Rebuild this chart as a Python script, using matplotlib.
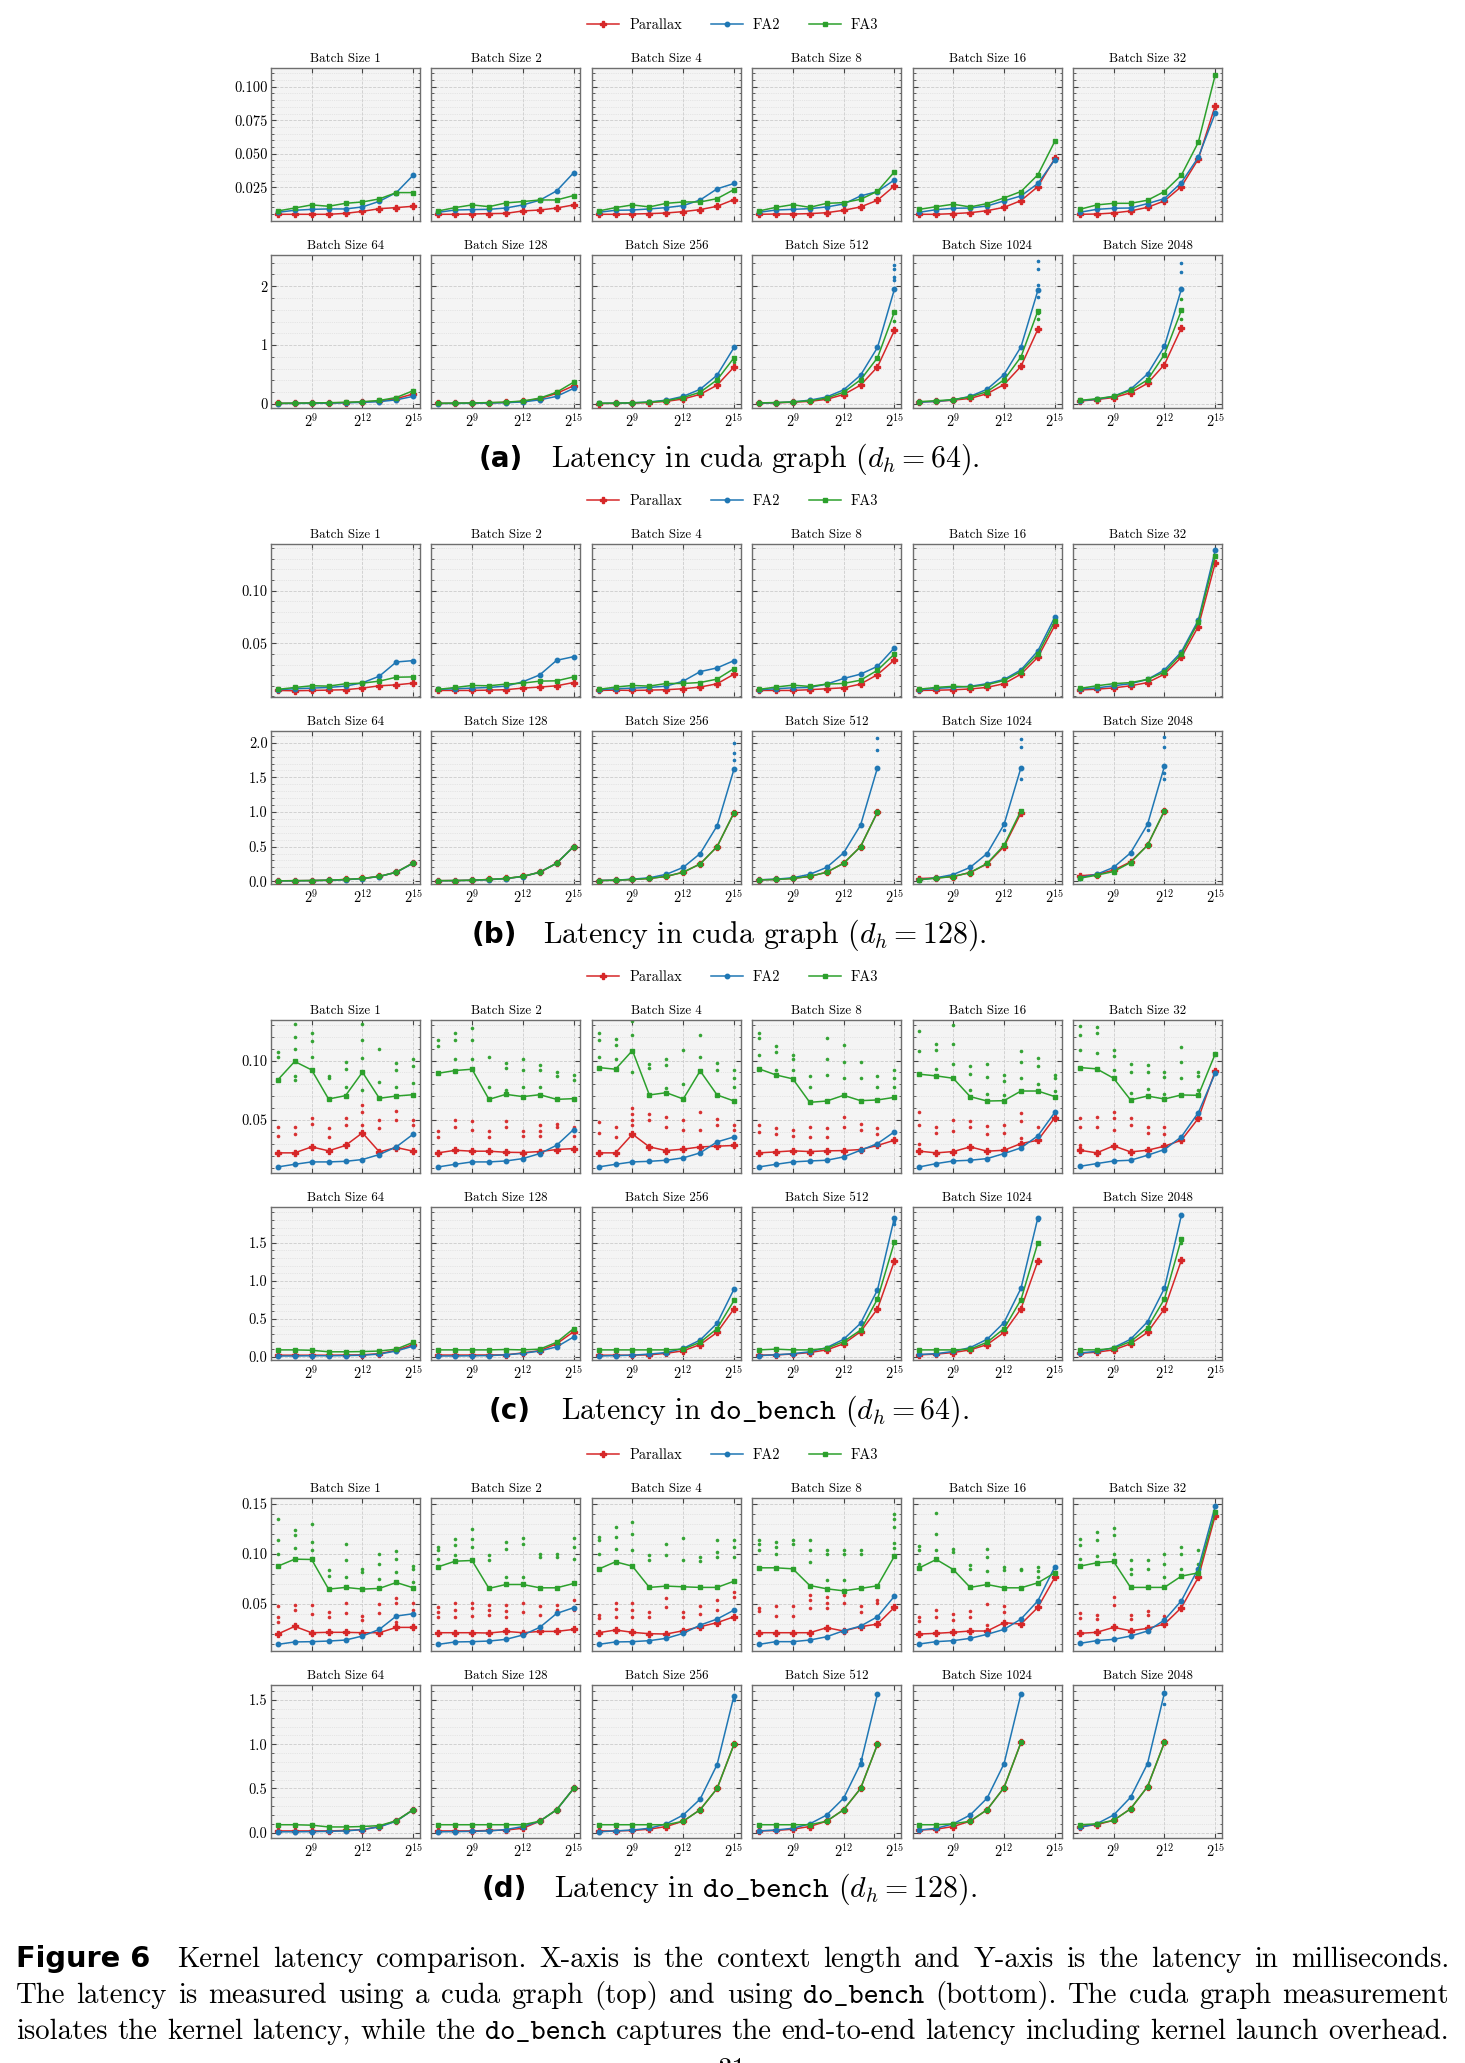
import matplotlib
matplotlib.use("Agg")
import matplotlib.pyplot as plt
from matplotlib.ticker import (FixedLocator, MultipleLocator, FormatStrFormatter,
                               LogFormatterSciNotation, NullLocator)

W, H = 1465, 2063

plt.rcParams['font.family'] = 'cmr10'
plt.rcParams['mathtext.fontset'] = 'cm'
plt.rcParams['axes.formatter.use_mathtext'] = True
plt.rcParams['axes.unicode_minus'] = False

# ---------------------------------------------------------------- data
context = [128, 256, 512, 1024, 2048, 4096, 8192, 16384, 32768]
batch_sizes = [1, 2, 4, 8, 16, 32, 64, 128, 256, 512, 1024, 2048]
series_names = ['Parallax', 'FA2', 'FA3']

# (a) cuda graph, d_h = 64
a_parallax = [
    [0.0048, 0.0048, 0.0048, 0.0048, 0.0055, 0.0070, 0.0090, 0.0098, 0.0108],
    [0.0048, 0.0048, 0.0050, 0.0053, 0.0055, 0.0073, 0.0080, 0.0095, 0.0118],
    [0.0048, 0.0048, 0.0050, 0.0053, 0.0058, 0.0068, 0.0083, 0.0108, 0.0158],
    [0.0048, 0.0050, 0.0050, 0.0053, 0.0060, 0.0078, 0.0103, 0.0153, 0.0260],
    [0.0048, 0.0048, 0.0053, 0.0060, 0.0075, 0.0100, 0.0150, 0.0255, 0.0465],
    [0.0048, 0.0050, 0.0058, 0.0073, 0.0100, 0.0148, 0.0255, 0.0460, 0.0860],
    [0.010, 0.012, 0.015, 0.018, 0.025, 0.035, 0.050, 0.090, 0.170],
    [0.010, 0.012, 0.015, 0.020, 0.028, 0.045, 0.090, 0.180, 0.310],
    [0.008, 0.010, 0.015, 0.025, 0.045, 0.085, 0.164, 0.320, 0.627],
    [0.013, 0.020, 0.030, 0.045, 0.080, 0.160, 0.320, 0.630, 1.250],
    [0.035, 0.045, 0.065, 0.095, 0.175, 0.330, 0.640, 1.270],
    [0.050, 0.075, 0.110, 0.190, 0.350, 0.670, 1.290],
]
a_fa2 = [
    [0.0063, 0.0078, 0.0085, 0.0088, 0.0088, 0.0103, 0.0145, 0.0210, 0.0340],
    [0.0063, 0.0080, 0.0083, 0.0085, 0.0095, 0.0118, 0.0153, 0.0223, 0.0358],
    [0.0063, 0.0078, 0.0080, 0.0088, 0.0098, 0.0113, 0.0155, 0.0238, 0.0278],
    [0.0063, 0.0080, 0.0085, 0.0090, 0.0103, 0.0125, 0.0185, 0.0218, 0.0305],
    [0.0063, 0.0083, 0.0093, 0.0095, 0.0110, 0.0148, 0.0185, 0.0278, 0.0455],
    [0.0063, 0.0085, 0.0093, 0.0095, 0.0128, 0.0165, 0.0285, 0.0473, 0.0803],
    [0.008, 0.010, 0.012, 0.015, 0.020, 0.028, 0.040, 0.070, 0.130],
    [0.008, 0.010, 0.012, 0.016, 0.022, 0.035, 0.070, 0.130, 0.265],
    [0.010, 0.013, 0.020, 0.035, 0.065, 0.130, 0.250, 0.490, 0.960],
    [0.015, 0.022, 0.035, 0.065, 0.120, 0.240, 0.490, 0.960, 1.950],
    [0.030, 0.045, 0.070, 0.130, 0.250, 0.500, 0.970, 1.930],
    [0.055, 0.080, 0.130, 0.250, 0.510, 0.980, 1.950],
]
a_fa3 = [
    [0.0073, 0.0095, 0.0118, 0.0108, 0.0130, 0.0140, 0.0163, 0.0210, 0.0210],
    [0.0073, 0.0098, 0.0118, 0.0105, 0.0133, 0.0143, 0.0155, 0.0155, 0.0188],
    [0.0073, 0.0098, 0.0118, 0.0103, 0.0130, 0.0140, 0.0140, 0.0165, 0.0233],
    [0.0073, 0.0100, 0.0120, 0.0100, 0.0130, 0.0135, 0.0160, 0.0220, 0.0365],
    [0.0085, 0.0105, 0.0123, 0.0103, 0.0128, 0.0170, 0.0218, 0.0343, 0.0593],
    [0.0085, 0.0118, 0.0130, 0.0130, 0.0153, 0.0218, 0.0340, 0.0585, 0.1088],
    [0.012, 0.015, 0.018, 0.022, 0.028, 0.038, 0.060, 0.110, 0.226],
    [0.012, 0.015, 0.018, 0.024, 0.032, 0.050, 0.100, 0.200, 0.370],
    [0.012, 0.015, 0.020, 0.030, 0.055, 0.110, 0.200, 0.410, 0.785],
    [0.018, 0.025, 0.035, 0.055, 0.100, 0.200, 0.410, 0.785, 1.565],
    [0.040, 0.055, 0.075, 0.120, 0.210, 0.410, 0.800, 1.580],
    [0.060, 0.090, 0.130, 0.230, 0.410, 0.840, 1.590],
]
# (batch index, series, context, repeated runs)
a_extra = [
    (8, 'FA3', 32768, [0.72]),
    (9, 'FA2', 32768, [2.36, 2.29, 2.16, 2.10]), (9, 'FA3', 32768, [1.41]),
    (10, 'FA2', 16384, [2.42, 2.30, 2.02, 1.81]), (10, 'FA3', 16384, [1.54, 1.45]),
    (11, 'FA2', 8192, [2.40, 2.24]), (11, 'FA3', 8192, [1.78, 1.44]),
]

# (b) cuda graph, d_h = 128
b_parallax = [
    [0.0056, 0.0053, 0.0056, 0.0059, 0.0063, 0.0078, 0.0100, 0.0109, 0.0125],
    [0.0056, 0.0056, 0.0056, 0.0059, 0.0063, 0.0078, 0.0088, 0.0100, 0.0131],
    [0.0056, 0.0059, 0.0056, 0.0059, 0.0063, 0.0072, 0.0088, 0.0119, 0.0210],
    [0.0056, 0.0056, 0.0056, 0.0063, 0.0072, 0.0081, 0.0116, 0.0206, 0.0344],
    [0.0056, 0.0058, 0.0062, 0.0070, 0.0085, 0.0120, 0.0210, 0.0370, 0.0670],
    [0.0060, 0.0068, 0.0080, 0.0100, 0.0130, 0.0210, 0.0370, 0.0660, 0.1260],
    [0.006, 0.008, 0.010, 0.015, 0.025, 0.040, 0.070, 0.130, 0.265],
    [0.008, 0.010, 0.015, 0.025, 0.040, 0.070, 0.130, 0.260, 0.500],
    [0.010, 0.015, 0.025, 0.040, 0.070, 0.130, 0.250, 0.500, 0.990],
    [0.020, 0.025, 0.040, 0.070, 0.130, 0.260, 0.500, 1.000],
    [0.039, 0.048, 0.068, 0.126, 0.250, 0.500, 0.985],
    [0.078, 0.097, 0.160, 0.280, 0.520, 1.015],
]
b_fa2 = [
    [0.0063, 0.0072, 0.0078, 0.0084, 0.0097, 0.0128, 0.0191, 0.0325, 0.0338],
    [0.0066, 0.0072, 0.0078, 0.0084, 0.0097, 0.0138, 0.0203, 0.0341, 0.0375],
    [0.0063, 0.0072, 0.0078, 0.0084, 0.0097, 0.0144, 0.0234, 0.0269, 0.0338],
    [0.0063, 0.0072, 0.0081, 0.0084, 0.0116, 0.0169, 0.0210, 0.0284, 0.0459],
    [0.0063, 0.0075, 0.0085, 0.0095, 0.0120, 0.0160, 0.0250, 0.0430, 0.0750],
    [0.0070, 0.0080, 0.0100, 0.0120, 0.0160, 0.0250, 0.0420, 0.0720, 0.1380],
    [0.005, 0.007, 0.009, 0.013, 0.022, 0.038, 0.068, 0.130, 0.260],
    [0.007, 0.009, 0.013, 0.022, 0.038, 0.068, 0.130, 0.260, 0.500],
    [0.010, 0.015, 0.030, 0.050, 0.100, 0.200, 0.400, 0.800, 1.620],
    [0.020, 0.030, 0.050, 0.100, 0.200, 0.410, 0.810, 1.640],
    [0.020, 0.050, 0.097, 0.200, 0.400, 0.820, 1.640],
    [0.053, 0.100, 0.200, 0.410, 0.820, 1.660],
]
b_fa3 = [
    [0.0066, 0.0084, 0.0100, 0.0097, 0.0119, 0.0125, 0.0144, 0.0181, 0.0184],
    [0.0066, 0.0084, 0.0103, 0.0100, 0.0116, 0.0125, 0.0144, 0.0147, 0.0184],
    [0.0066, 0.0088, 0.0103, 0.0097, 0.0122, 0.0122, 0.0131, 0.0163, 0.0263],
    [0.0066, 0.0088, 0.0106, 0.0094, 0.0116, 0.0122, 0.0153, 0.0247, 0.0400],
    [0.0068, 0.0085, 0.0095, 0.0090, 0.0110, 0.0150, 0.0235, 0.0400, 0.0710],
    [0.0075, 0.0100, 0.0120, 0.0130, 0.0160, 0.0230, 0.0400, 0.0700, 0.1330],
    [0.006, 0.008, 0.010, 0.015, 0.025, 0.040, 0.070, 0.130, 0.265],
    [0.008, 0.010, 0.015, 0.025, 0.040, 0.070, 0.130, 0.260, 0.500],
    [0.010, 0.015, 0.025, 0.040, 0.070, 0.130, 0.250, 0.500, 0.990],
    [0.020, 0.025, 0.040, 0.070, 0.130, 0.260, 0.500, 1.000],
    [0.022, 0.044, 0.068, 0.126, 0.257, 0.520, 1.020],
    [0.044, 0.087, 0.140, 0.270, 0.520, 1.020],
]
b_extra = [
    (8, 'FA2', 32768, [2.00, 1.85, 1.75]),
    (9, 'FA2', 16384, [2.07, 1.90]),
    (10, 'FA2', 8192, [2.06, 1.94, 1.48]), (10, 'FA2', 4096, [0.74]),
    (11, 'FA2', 4096, [2.08, 1.94, 1.56, 1.47]), (11, 'FA2', 2048, [0.74]),
]

# (c) do_bench, d_h = 64
c_parallax = [
    [0.0225, 0.0225, 0.0275, 0.0242, 0.0287, 0.0393, 0.0233, 0.0270, 0.0239],
    [0.0225, 0.0247, 0.0239, 0.0239, 0.0230, 0.0228, 0.0236, 0.0253, 0.0261],
    [0.0225, 0.0225, 0.0382, 0.0275, 0.0244, 0.0256, 0.0275, 0.0281, 0.0287],
    [0.0225, 0.0233, 0.0242, 0.0236, 0.0242, 0.0244, 0.0253, 0.0287, 0.0331],
    [0.0239, 0.0225, 0.0236, 0.0275, 0.0239, 0.0247, 0.0303, 0.0331, 0.0520],
    [0.0247, 0.0225, 0.0284, 0.0233, 0.0247, 0.0281, 0.0331, 0.0514, 0.0913],
    [0.020, 0.020, 0.020, 0.020, 0.022, 0.025, 0.040, 0.085, 0.160],
    [0.022, 0.022, 0.022, 0.023, 0.025, 0.050, 0.080, 0.170, 0.330],
    [0.020, 0.020, 0.020, 0.025, 0.045, 0.078, 0.160, 0.320, 0.630],
    [0.020, 0.025, 0.035, 0.055, 0.090, 0.170, 0.330, 0.630, 1.260],
    [0.025, 0.035, 0.055, 0.090, 0.160, 0.320, 0.630, 1.260],
    [0.045, 0.060, 0.090, 0.170, 0.320, 0.630, 1.270],
]
c_fa2 = [
    [0.0107, 0.0129, 0.0149, 0.0149, 0.0154, 0.0169, 0.0211, 0.0275, 0.0382],
    [0.0107, 0.0129, 0.0149, 0.0149, 0.0157, 0.0177, 0.0219, 0.0289, 0.0421],
    [0.0107, 0.0129, 0.0149, 0.0154, 0.0163, 0.0183, 0.0225, 0.0317, 0.0359],
    [0.0107, 0.0129, 0.0149, 0.0157, 0.0163, 0.0191, 0.0247, 0.0303, 0.0402],
    [0.0107, 0.0135, 0.0157, 0.0163, 0.0177, 0.0219, 0.0267, 0.0368, 0.0565],
    [0.0112, 0.0135, 0.0157, 0.0163, 0.0205, 0.0253, 0.0360, 0.0562, 0.0893],
    [0.010, 0.010, 0.013, 0.013, 0.015, 0.020, 0.035, 0.075, 0.140],
    [0.010, 0.010, 0.013, 0.015, 0.025, 0.045, 0.075, 0.130, 0.260],
    [0.010, 0.015, 0.020, 0.035, 0.055, 0.110, 0.220, 0.440, 0.890],
    [0.015, 0.025, 0.040, 0.065, 0.120, 0.230, 0.440, 0.880, 1.830],
    [0.030, 0.040, 0.070, 0.120, 0.230, 0.450, 0.900, 1.830],
    [0.050, 0.070, 0.120, 0.230, 0.460, 0.900, 1.860],
]
c_fa3 = [
    [0.0837, 0.0992, 0.0921, 0.0677, 0.0705, 0.0902, 0.0683, 0.0702, 0.0713],
    [0.0893, 0.0916, 0.0927, 0.0674, 0.0716, 0.0697, 0.0713, 0.0674, 0.0680],
    [0.0941, 0.0927, 0.1084, 0.0711, 0.0730, 0.0677, 0.0913, 0.0711, 0.0660],
    [0.0930, 0.0879, 0.0846, 0.0649, 0.0660, 0.0708, 0.0663, 0.0669, 0.0691],
    [0.0885, 0.0871, 0.0851, 0.0697, 0.0660, 0.0663, 0.0744, 0.0744, 0.0697],
    [0.0941, 0.0930, 0.0851, 0.0669, 0.0702, 0.0677, 0.0711, 0.0708, 0.1056],
    [0.090, 0.090, 0.085, 0.065, 0.065, 0.068, 0.075, 0.100, 0.190],
    [0.090, 0.090, 0.090, 0.090, 0.095, 0.090, 0.100, 0.190, 0.370],
    [0.090, 0.090, 0.090, 0.090, 0.090, 0.100, 0.190, 0.370, 0.740],
    [0.090, 0.100, 0.090, 0.090, 0.110, 0.200, 0.350, 0.760, 1.510],
    [0.090, 0.090, 0.090, 0.100, 0.190, 0.370, 0.750, 1.500],
    [0.090, 0.090, 0.110, 0.200, 0.380, 0.760, 1.550],
]
c_extra = [
    (9, 'FA2', 32768, [1.78, 1.75]), (10, 'FA2', 16384, [1.80]),
    (11, 'FA3', 8192, [1.50]),
]
# individual do_bench runs that sit away from the median (batch 1..32)
c_fa3_runs = [
    [[0.107, 0.103], [0.131, 0.120, 0.110, 0.087, 0.084], [0.123, 0.116, 0.103], [0.087, 0.085],
     [0.099, 0.093, 0.078], [0.131, 0.117, 0.102, 0.075], [0.110, 0.082], [0.098, 0.092, 0.078],
     [0.101, 0.095, 0.081]],
    [[0.117, 0.112], [0.123, 0.117, 0.101], [0.127, 0.117, 0.101], [0.103, 0.078],
     [0.098, 0.094, 0.075], [0.101, 0.092, 0.078], [0.096, 0.092, 0.078], [0.090, 0.087],
     [0.088, 0.084]],
    [[0.123, 0.117, 0.103], [0.118, 0.113, 0.101], [0.133, 0.121, 0.090], [0.097, 0.094],
     [0.101, 0.096, 0.077], [0.109, 0.080], [0.121, 0.103], [0.098, 0.092], [0.092, 0.085, 0.078]],
    [[0.123, 0.119, 0.105], [0.112, 0.107, 0.092], [0.105, 0.101, 0.092], [0.087, 0.078],
     [0.119, 0.101, 0.088], [0.113, 0.099, 0.085], [0.099, 0.085], [0.087, 0.078],
     [0.092, 0.085, 0.078]],
    [[0.125, 0.108], [0.114, 0.109, 0.093], [0.130, 0.114, 0.097], [0.095, 0.089, 0.075],
     [0.097, 0.086, 0.072], [0.088, 0.083, 0.071], [0.108, 0.099, 0.085], [0.102, 0.095, 0.080],
     [0.088, 0.085, 0.074]],
    [[0.129, 0.121, 0.109], [0.128, 0.123, 0.106], [0.109, 0.104, 0.092], [0.097, 0.090, 0.073],
     [0.096, 0.090, 0.076], [0.090, 0.086, 0.072], [0.111, 0.099, 0.085], [0.090, 0.087, 0.075], []],
]
c_parallax_runs = [
    [[0.044, 0.037], [0.044, 0.038], [0.052, 0.047], [0.043, 0.036], [0.052, 0.046],
     [0.063, 0.057, 0.046], [0.050, 0.043], [0.058, 0.050], [0.050, 0.046]],
    [[0.041, 0.036], [0.050, 0.044], [0.049, 0.042], [0.041, 0.036], [0.049, 0.044],
     [0.041, 0.037], [0.046, 0.041, 0.037], [0.047, 0.044], [0.044, 0.037]],
    [[0.048, 0.039], [0.044, 0.036], [0.060, 0.055, 0.050, 0.046], [0.055, 0.050], [0.053, 0.044],
     [0.050, 0.042], [0.057, 0.042], [0.051, 0.046], [0.046, 0.042]],
    [[0.046, 0.040], [0.043, 0.038], [0.042, 0.037], [0.044, 0.036], [0.043, 0.036],
     [0.053, 0.044], [0.047, 0.042], [0.043, 0.038], []],
    [[0.057, 0.046, 0.030], [0.044, 0.039], [0.050, 0.041], [0.049, 0.044], [0.045, 0.038],
     [0.046, 0.039], [0.056, 0.049, 0.035], [0.044], []],
    [[0.052, 0.044, 0.029], [0.053, 0.044], [0.057, 0.052, 0.042], [0.052, 0.046], [0.044, 0.039],
     [0.044, 0.038], [], [], []],
]

# (d) do_bench, d_h = 128
d_parallax = [
    [0.0202, 0.0278, 0.0215, 0.0219, 0.0219, 0.0215, 0.0215, 0.0268, 0.0268],
    [0.0215, 0.0215, 0.0215, 0.0212, 0.0228, 0.0215, 0.0228, 0.0228, 0.0248],
    [0.0215, 0.0242, 0.0219, 0.0205, 0.0202, 0.0235, 0.0275, 0.0315, 0.0374],
    [0.0215, 0.0215, 0.0215, 0.0215, 0.0265, 0.0232, 0.0275, 0.0301, 0.0467],
    [0.0202, 0.0209, 0.0219, 0.0232, 0.0232, 0.0315, 0.0301, 0.0467, 0.0765],
    [0.0209, 0.0219, 0.0268, 0.0235, 0.0258, 0.0301, 0.0464, 0.0765, 0.1381],
    [0.020, 0.020, 0.020, 0.020, 0.025, 0.035, 0.070, 0.135, 0.260],
    [0.020, 0.020, 0.020, 0.025, 0.030, 0.050, 0.130, 0.260, 0.500],
    [0.020, 0.020, 0.025, 0.040, 0.070, 0.130, 0.260, 0.500, 1.000],
    [0.020, 0.025, 0.040, 0.070, 0.130, 0.260, 0.500, 1.000],
    [0.030, 0.040, 0.070, 0.130, 0.260, 0.510, 1.020],
    [0.070, 0.090, 0.140, 0.270, 0.520, 1.020],
]
d_fa2 = [
    [0.0099, 0.0123, 0.0126, 0.0132, 0.0142, 0.0182, 0.0248, 0.0381, 0.0404],
    [0.0099, 0.0123, 0.0126, 0.0132, 0.0149, 0.0192, 0.0268, 0.0407, 0.0464],
    [0.0099, 0.0123, 0.0126, 0.0136, 0.0159, 0.0209, 0.0291, 0.0351, 0.0440],
    [0.0099, 0.0126, 0.0126, 0.0142, 0.0175, 0.0235, 0.0281, 0.0374, 0.0579],
    [0.0103, 0.0126, 0.0136, 0.0159, 0.0199, 0.0248, 0.0351, 0.0533, 0.0871],
    [0.0109, 0.0136, 0.0149, 0.0182, 0.0232, 0.0341, 0.0533, 0.0854, 0.1474],
    [0.010, 0.010, 0.012, 0.015, 0.020, 0.035, 0.065, 0.130, 0.260],
    [0.010, 0.012, 0.015, 0.020, 0.035, 0.070, 0.130, 0.260, 0.500],
    [0.010, 0.020, 0.030, 0.050, 0.100, 0.200, 0.380, 0.770, 1.550],
    [0.020, 0.030, 0.050, 0.100, 0.200, 0.390, 0.780, 1.570],
    [0.030, 0.050, 0.100, 0.200, 0.390, 0.780, 1.570],
    [0.060, 0.100, 0.200, 0.400, 0.780, 1.580],
]
d_fa3 = [
    [0.0877, 0.0947, 0.0944, 0.0649, 0.0666, 0.0649, 0.0656, 0.0715, 0.0662],
    [0.0871, 0.0927, 0.0934, 0.0656, 0.0695, 0.0695, 0.0662, 0.0662, 0.0705],
    [0.0848, 0.0921, 0.0877, 0.0666, 0.0679, 0.0672, 0.0666, 0.0666, 0.0728],
    [0.0861, 0.0861, 0.0851, 0.0685, 0.0652, 0.0632, 0.0656, 0.0682, 0.0977],
    [0.0861, 0.0944, 0.0844, 0.0666, 0.0695, 0.0662, 0.0662, 0.0712, 0.0811],
    [0.0877, 0.0911, 0.0924, 0.0666, 0.0666, 0.0666, 0.0778, 0.0811, 0.1417],
    [0.090, 0.090, 0.085, 0.065, 0.065, 0.070, 0.080, 0.135, 0.260],
    [0.090, 0.090, 0.090, 0.090, 0.090, 0.090, 0.130, 0.260, 0.500],
    [0.090, 0.090, 0.090, 0.090, 0.090, 0.130, 0.260, 0.500, 1.000],
    [0.090, 0.090, 0.090, 0.090, 0.130, 0.260, 0.500, 1.000],
    [0.090, 0.090, 0.100, 0.130, 0.260, 0.510, 1.020],
    [0.090, 0.100, 0.140, 0.270, 0.520, 1.020],
]
d_extra = [
    (8, 'FA2', 32768, [1.50]), (9, 'FA2', 8192, [0.83, 0.80]),
    (11, 'FA2', 4096, [1.45]),
]
d_fa3_runs = [
    [[0.135, 0.114, 0.100], [0.124, 0.119, 0.106], [0.130, 0.112, 0.104], [0.084, 0.078],
     [0.110, 0.094, 0.077], [0.085, 0.082], [0.100, 0.090, 0.075], [0.103, 0.095, 0.082],
     [0.088, 0.085, 0.072]],
    [[0.107, 0.104, 0.095], [0.115, 0.109, 0.099], [0.125, 0.115, 0.107], [0.099, 0.094],
     [0.112, 0.105, 0.077], [0.116, 0.110, 0.077], [0.100, 0.097], [0.100, 0.097],
     [0.116, 0.107, 0.095]],
    [[0.117, 0.114, 0.100], [0.127, 0.117, 0.105], [0.132, 0.120, 0.104], [0.099, 0.094],
     [0.110, 0.099], [0.116, 0.094], [0.097, 0.093], [0.114, 0.102, 0.097], [0.114, 0.107, 0.097]],
    [[0.114, 0.110, 0.104], [0.112, 0.107, 0.100], [0.114, 0.110], [0.114, 0.104, 0.092],
     [0.104, 0.100, 0.074], [0.104, 0.100, 0.074], [0.104, 0.100], [],
     [0.140, 0.135, 0.127, 0.111, 0.106]],
    [[0.108, 0.104, 0.090], [0.141, 0.120, 0.104], [0.105, 0.102], [0.089, 0.085],
     [0.105, 0.097, 0.083], [0.087, 0.084], [0.085, 0.084], [0.087, 0.083, 0.077], []],
    [[0.115, 0.109, 0.095], [0.122, 0.114, 0.098], [0.126, 0.119, 0.100], [0.094, 0.085, 0.080],
     [0.094, 0.085], [0.100, 0.090, 0.077], [0.107, 0.100, 0.085], [0.104, 0.090], []],
]
d_parallax_runs = [
    [[0.048, 0.037, 0.032], [0.049, 0.044], [0.049, 0.040], [0.042, 0.037], [0.051, 0.041],
     [0.038, 0.034], [0.050, 0.041], [0.056, 0.051, 0.032], [0.051, 0.044]],
    [[0.047, 0.042, 0.037], [0.051, 0.044, 0.037], [0.051, 0.046, 0.038], [0.049, 0.044, 0.039],
     [0.049, 0.043, 0.037], [0.051, 0.042], [0.048, 0.039], [0.049, 0.044], [0.054, 0.044]],
    [[0.039, 0.036], [0.051, 0.045, 0.037], [0.051, 0.044, 0.037], [0.042, 0.037], [0.056, 0.047],
     [0.042, 0.037], [0.048, 0.040], [0.054, 0.044], [0.062, 0.057]],
    [[0.046, 0.043], [0.048, 0.038], [0.048, 0.038], [0.059, 0.054, 0.046], [0.057, 0.051, 0.046],
     [0.059, 0.051], [0.048, 0.042], [0.054, 0.051], []],
    [[0.037, 0.033], [0.044, 0.037], [0.040, 0.034], [0.043, 0.037], [0.050, 0.029],
     [0.048, 0.042], [], [], []],
    [[0.041, 0.036], [0.039, 0.035], [0.057, 0.049], [0.039, 0.035], [0.043, 0.039], [0.038],
     [], [], []],
]

# ---------------------------------------------------------------- styling
colors = {'Parallax': '#d62728', 'FA2': '#1f77b4', 'FA3': '#2ca02c'}
markers = {'Parallax': 'P', 'FA2': 'o', 'FA3': 's'}
msizes = {'Parallax': 4.6, 'FA2': 3.2, 'FA3': 3.2}

panels = [
    dict(tag='(a)', text=r'Latency in cuda graph ($d_h = 64$).',
         data={'Parallax': a_parallax, 'FA2': a_fa2, 'FA3': a_fa3}, extra=a_extra, runs=None,
         rows=[((-0.0002, 0.114), [0.025, 0.05, 0.075, 0.1], 0.005, '%.3f'),
               ((-0.068, 2.53), [0, 1, 2], 0.2, '%d')]),
    dict(tag='(b)', text=r'Latency in cuda graph ($d_h = 128$).',
         data={'Parallax': b_parallax, 'FA2': b_fa2, 'FA3': b_fa3}, extra=b_extra, runs=None,
         rows=[((-0.0006, 0.144), [0.05, 0.10], 0.01, '%.2f'),
               ((-0.04, 2.17), [0.0, 0.5, 1.0, 1.5, 2.0], 0.1, '%.1f')]),
    dict(tag='(c)', text=r'Latency in $\mathtt{do\_bench}$ ($d_h = 64$).',
         data={'Parallax': c_parallax, 'FA2': c_fa2, 'FA3': c_fa3}, extra=c_extra,
         runs={'FA3': c_fa3_runs, 'Parallax': c_parallax_runs},
         rows=[((0.0056, 0.134), [0.05, 0.10], 0.01, '%.2f'),
               ((-0.043, 1.97), [0.0, 0.5, 1.0, 1.5], 0.1, '%.1f')]),
    dict(tag='(d)', text=r'Latency in $\mathtt{do\_bench}$ ($d_h = 128$).',
         data={'Parallax': d_parallax, 'FA2': d_fa2, 'FA3': d_fa3}, extra=d_extra,
         runs={'FA3': d_fa3_runs, 'Parallax': d_parallax_runs},
         rows=[((0.0033, 0.1556), [0.05, 0.10, 0.15], 0.01, '%.2f'),
               ((-0.06, 1.67), [0.0, 0.5, 1.0, 1.5], 0.1, '%.1f')]),
]

panel_tops = [68, 544, 1020, 1498]
COL_LEFT, COL_STEP, AX_W, AX_H, ROW_STEP = 271, 160.4, 149, 153, 187


def rect(left, top, w, h):
    return [left / W, 1 - (top + h) / H, w / W, h / H]


def style_axis(ax, ylim, yticks, yminor, yfmt):
    ax.set_facecolor('#f4f4f4')
    for sp in ax.spines.values():
        sp.set_color('#6e6e6e')
        sp.set_linewidth(1.0)
    ax.set_xscale('log', base=2)
    ax.xaxis.set_major_locator(FixedLocator([2 ** 9, 2 ** 12, 2 ** 15]))
    ax.xaxis.set_major_formatter(LogFormatterSciNotation(base=2))
    ax.xaxis.set_minor_locator(NullLocator())
    ax.set_ylim(*ylim)
    ax.yaxis.set_major_locator(FixedLocator(yticks))
    ax.yaxis.set_minor_locator(MultipleLocator(yminor))
    ax.yaxis.set_major_formatter(FormatStrFormatter(yfmt))
    ax.tick_params(which='both', direction='in', top=True, right=True,
                   color='#444444', labelsize=10.4, pad=2.5)
    ax.tick_params(which='major', length=3.5, width=0.8)
    ax.tick_params(which='minor', length=1.8, width=0.6)
    ax.grid(which='major', ls='--', color='#cccccc', lw=0.6)
    ax.grid(which='minor', axis='y', ls=':', color='#d6d6d6', lw=0.5)
    ax.set_axisbelow(True)


fig = plt.figure(figsize=(W / 100, H / 100), dpi=100)
renderer = fig.canvas.get_renderer()

first_ax = None
for p, ptop in zip(panels, panel_tops):
    handles = []
    for r in range(2):
        ylim, yticks, yminor, yfmt = p['rows'][r]
        row_ax = None
        for c in range(6):
            b = r * 6 + c
            ax = fig.add_axes(rect(COL_LEFT + c * COL_STEP, ptop + r * ROW_STEP, AX_W, AX_H),
                              sharex=first_ax, sharey=row_ax)
            if first_ax is None:
                first_ax = ax
            if row_ax is None:
                row_ax = ax
            style_axis(ax, ylim, yticks, yminor, yfmt)
            ax.set_title(f'Batch Size {batch_sizes[b]}', fontsize=9.3, pad=4)
            if c > 0:
                ax.tick_params(labelleft=False)
            if r == 0:
                ax.tick_params(labelbottom=False)

            # scattered single runs
            if p['runs'] is not None and r == 0:
                for name, runs in p['runs'].items():
                    for xi, vals in enumerate(runs[b]):
                        ax.plot([context[xi]] * len(vals), vals, ls='none', marker='o',
                                ms=1.6, color=colors[name], alpha=0.9, zorder=2)
            for bi, name, xv, vals in p['extra']:
                if bi == b:
                    ax.plot([xv] * len(vals), vals, ls='none', marker='o', ms=1.6,
                            color=colors[name], zorder=2)
            for name in series_names:
                ys = p['data'][name][b]
                line, = ax.plot(context[:len(ys)], ys, color=colors[name], lw=1.1,
                                marker=markers[name], ms=msizes[name], label=name, zorder=3)
                if b == 0:
                    handles.append(line)

    fig.legend(handles, series_names, loc='center', bbox_to_anchor=(733 / W, 1 - (ptop - 43) / H),
               ncol=3, frameon=False, fontsize=10.4, handlelength=2.2, handletextpad=0.7,
               columnspacing=2.0)

    # sub-caption: bold tag + serif text, centred as a group
    base_y = ptop + 2 * ROW_STEP - ROW_STEP + AX_H + 52 + 7
    tag = fig.text(0, 1 - base_y / H, p['tag'], fontsize=20, family='DejaVu Sans',
                   weight='bold', va='baseline')
    txt = fig.text(0, 1 - base_y / H, p['text'], fontsize=21.5, va='baseline')
    tw = txt.get_window_extent(renderer).width
    x0 = 729 - (72 + tw) / 2
    tag.set_x(x0 / W)
    txt.set_x((x0 + 72) / W)

# ---------------------------------------------------------------- figure caption
caption_lines = [
    'Figure_6 Kernel latency comparison. X-axis is the context length and Y-axis is the latency in milliseconds.',
    'The latency is measured using a cuda graph (top) and using do_bench (bottom). The cuda graph measurement',
    'isolates the kernel latency, while the do_bench captures the end-to-end latency including kernel launch overhead.',
]
cap_baselines = [1967, 2003, 2039]
CAP_X0, CAP_X1 = 16, 1449


def word_props(word):
    if word == 'Figure_6':
        return 'Figure 6', dict(family='DejaVu Sans', weight='bold')
    if word == 'do_bench':
        return word, dict(family='cmtt10')
    return word, dict(family='cmr10')


def make_words(line, size, y):
    out = []
    for w in line.split(' '):
        s, props = word_props(w)
        out.append(fig.text(0, 1 - y / H, s, fontsize=size, va='baseline', **props))
    return out


# find a font size where the tightest line fits with ordinary word spaces
test = 20.0
scale = 10.0
for line in caption_lines:
    ws = make_words(line, test, 0)
    widths = [t.get_window_extent(renderer).width for t in ws]
    natural = sum(widths) + (len(ws) - 1) * 0.333 * test * 100 / 72
    scale = min(scale, (CAP_X1 - CAP_X0) / natural)
    for t in ws:
        t.remove()
cap_size = test * scale

for line, yb in zip(caption_lines, cap_baselines):
    ws = make_words(line, cap_size, yb)
    widths = [t.get_window_extent(renderer).width for t in ws]
    extra = 14 if line.startswith('Figure') else 0
    gap = (CAP_X1 - CAP_X0 - sum(widths) - extra) / (len(ws) - 1)
    x = CAP_X0
    for i, (t, w) in enumerate(zip(ws, widths)):
        t.set_x(x / W)
        x += w + gap + (extra if i == 0 else 0)

fig.text(732 / W, 1 - 2078 / H, '31', fontsize=cap_size, ha='center', va='baseline')

fig.savefig('out.png', dpi=100)
